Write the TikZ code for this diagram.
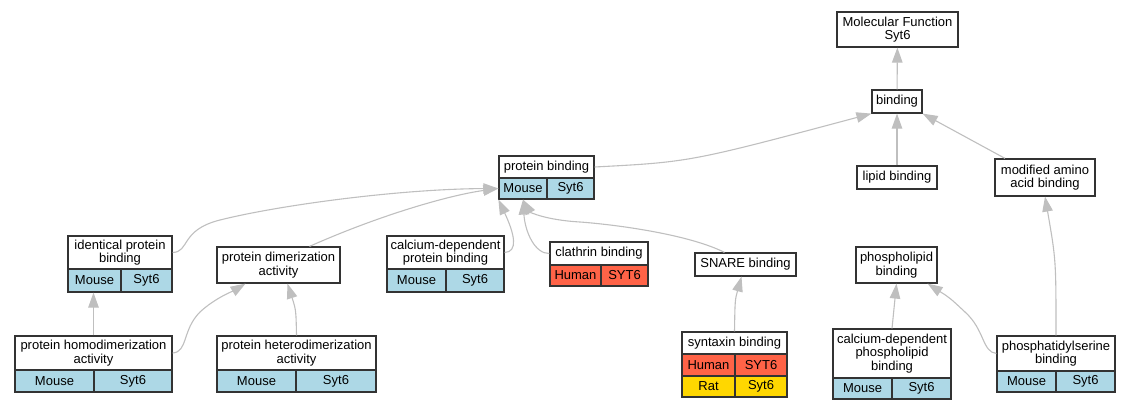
\documentclass[tikz,border=0pt]{standalone}
\usepackage{fontspec}
\setmainfont{Liberation Sans}
\usepackage{xcolor}
\usepackage{tikz}
\usetikzlibrary{arrows.meta}
\definecolor{mousecol}{RGB}{173,216,230}
\definecolor{humancol}{RGB}{255,99,71}
\definecolor{ratcol}{RGB}{255,215,0}

\begin{document}
\begin{tikzpicture}[x=1pt,y=-1pt,
	term/.style={draw=black!80,line width=1.2pt,fill=white,align=center,inner sep=0pt,font=\fontsize{13}{13.3}\selectfont},
	mouse/.style={term,fill=mousecol},
	human/.style={term,fill=humancol},
	rat/.style={term,fill=ratcol},
	isa/.style={draw=black!25,line width=1.1pt,-{Triangle[length=15pt,width=10.5pt]}}]
	\useasboundingbox (0,0) rectangle (1132,411);

	% top of the tree
	\node[term,minimum width=121pt,minimum height=35pt] (mf) at (897.5,29.5) {Molecular Function\\Syt6};
	\node[term,minimum width=50pt,minimum height=23pt] (bind) at (897,101.5) {binding};
	\node[term,minimum width=80pt,minimum height=23pt] (lip) at (897,177.5) {lipid binding};
	\node[term,minimum width=100pt,minimum height=37pt] (modaa) at (1045,177.5) {modified amino\\acid binding};
	\node[term,minimum width=95pt,minimum height=22pt] (pb) at (546.5,167) {protein binding};
	\node[mouse,minimum width=48pt,minimum height=21pt] (pbA) at (523,188.5) {Mouse};
	\node[mouse,minimum width=47pt,minimum height=21pt] (pbB) at (570.5,188.5) {Syt6};

	% middle row
	\node[term,minimum width=104pt,minimum height=33pt] (ipb) at (120,252.5) {identical protein\\binding};
	\node[mouse,minimum width=53pt,minimum height=23pt] (ipbA) at (94.5,280.5) {Mouse};
	\node[mouse,minimum width=51pt,minimum height=23pt] (ipbB) at (146.5,280.5) {Syt6};
	\node[term,minimum width=123pt,minimum height=36pt] (pda) at (278.5,265) {protein dimerization\\activity};
	\node[term,minimum width=117pt,minimum height=33pt] (cdpb) at (445.5,252.5) {calcium-dependent\\protein binding};
	\node[mouse,minimum width=59pt,minimum height=23pt] (cdpbA) at (416.5,280.5) {Mouse};
	\node[mouse,minimum width=58pt,minimum height=23pt] (cdpbB) at (475,280.5) {Syt6};
	\node[term,minimum width=98pt,minimum height=23pt] (clath) at (599,253.5) {clathrin binding};
	\node[human,minimum width=51pt,minimum height=21pt] (clathA) at (575.5,275.5) {Human};
	\node[human,minimum width=47pt,minimum height=21pt] (clathB) at (624.5,275.5) {SYT6};
	\node[term,minimum width=101pt,minimum height=23pt] (snare) at (745.5,264.5) {SNARE binding};
	\node[term,minimum width=81pt,minimum height=36pt] (plb) at (896.5,265) {phospholipid\\binding};

	% bottom row
	\node[term,minimum width=157pt,minimum height=34pt] (phd) at (93.5,353) {protein homodimerization\\activity};
	\node[mouse,minimum width=79pt,minimum height=22pt] (phdA) at (54.5,381) {Mouse};
	\node[mouse,minimum width=78pt,minimum height=22pt] (phdB) at (133,381) {Syt6};
	\node[term,minimum width=159pt,minimum height=34pt] (phtd) at (296.5,353) {protein heterodimerization\\activity};
	\node[mouse,minimum width=79pt,minimum height=22pt] (phtdA) at (256.5,381) {Mouse};
	\node[mouse,minimum width=80pt,minimum height=22pt] (phtdB) at (336,381) {Syt6};
	\node[term,minimum width=105pt,minimum height=22pt] (stx) at (734.5,343) {syntaxin binding};
	\node[human,minimum width=53pt,minimum height=22pt] (stxA) at (708.5,365) {Human};
	\node[human,minimum width=52pt,minimum height=22pt] (stxB) at (761,365) {SYT6};
	\node[rat,minimum width=53pt,minimum height=21pt] (stxC) at (708.5,386.5) {Rat};
	\node[rat,minimum width=52pt,minimum height=21pt] (stxD) at (761,386.5) {Syt6};
	\node[term,minimum width=118pt,minimum height=49pt] (cdplb) at (892,353.5) {calcium-dependent\\phospholipid\\binding};
	\node[mouse,minimum width=59pt,minimum height=21pt] (cdplbA) at (862.5,388.5) {Mouse};
	\node[mouse,minimum width=59pt,minimum height=21pt] (cdplbB) at (921.5,388.5) {Syt6};
	\node[term,minimum width=118pt,minimum height=35pt] (psb) at (1056,353.5) {phosphatidylserine\\binding};
	\node[mouse,minimum width=59pt,minimum height=21pt] (psbA) at (1026.5,381.5) {Mouse};
	\node[mouse,minimum width=59pt,minimum height=21pt] (psbB) at (1085.5,381.5) {Syt6};

	% is_a edges
	\draw[isa] (bind) -- (mf);
	\draw[isa] (lip) -- (bind);
	\draw[isa] ([xshift=-40pt]modaa.north) -- (bind.south east);
	\draw[isa] (pb.east) .. controls (690,162) .. (bind.south west);
	\draw[isa] (ipb.east) .. controls (190,252) and (180,230) .. (220,220) .. controls (280,205) and (400,189) .. (pbA.west);
	\draw[isa] ([xshift=31pt]pda.north) .. controls (380,215) and (450,195) .. (pbA.west);
	\draw[isa] (cdpb.east) .. controls (518,252) and (515,235) .. (pbA.south west);
	\draw[isa] (clath.west) .. controls (535,254) and (525,232) .. (pbA.south);
	\draw[isa] ([xshift=-21pt]snare.north) .. controls (690,235) and (620,225) .. (580,222) .. controls (545,220) and (530,212) .. (pbA.south);
	\draw[isa] (phd.north) -- (phd.north |- ipbA.south);
	\draw[isa] (phd.east) .. controls (188,352) and (182,330) .. (200,312) .. controls (215,298) and (235,290) .. ([xshift=-33pt]pda.south);
	\draw[isa] (phtd.north) .. controls (296,310) .. ([xshift=9pt]pda.south);
	\draw[isa] (stx.north) .. controls (735,300) .. ([xshift=-4pt]snare.south);
	\draw[isa] (cdplb.north) -- (plb.south);
	\draw[isa] (psb.west) .. controls (982,352) and (985,330) .. (965,312) .. controls (950,298) .. ([xshift=-10pt]plb.south east);
	\draw[isa] (psb.north) .. controls (1056,260) .. (modaa.south);
\end{tikzpicture}
\end{document}
